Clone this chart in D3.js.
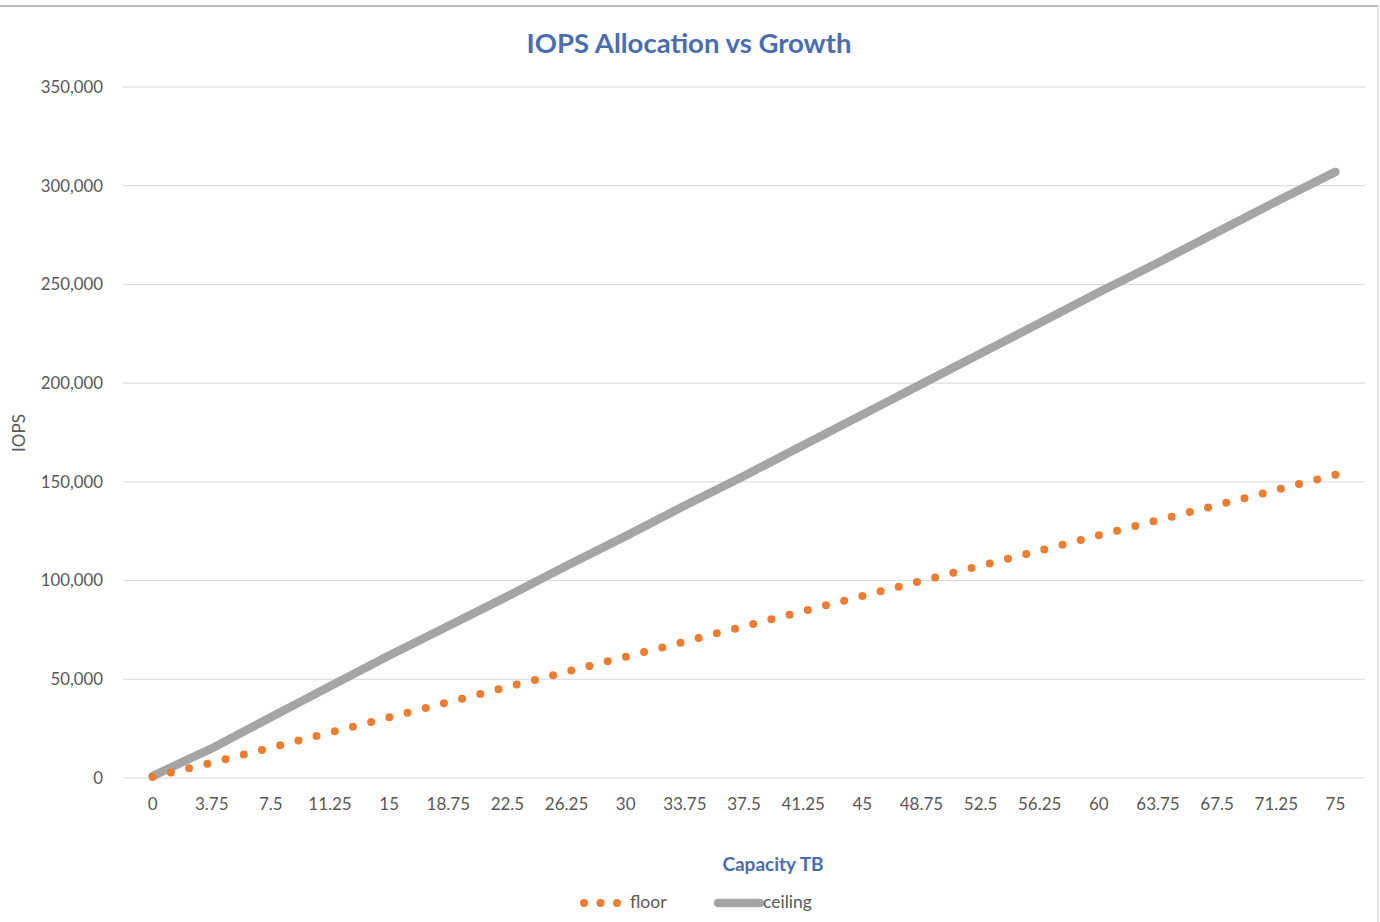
<!DOCTYPE html>
<html>
<head>
<meta charset="utf-8">
<script src="https://cdn.jsdelivr.net/npm/d3@7"></script>
<style>
  body { margin: 0; background: #fff; }
  svg { display: block; font-family: Lato, "Open Sans", sans-serif; }
</style>
</head>
<body>
<div id="grafica"></div>
<script>
// capacidad en TB (eje x de categorias)
const capacidad = ["0", "3.75", "7.5", "11.25", "15", "18.75", "22.5", "26.25", "30", "33.75", "37.5",
  "41.25", "45", "48.75", "52.5", "56.25", "60", "63.75", "67.5", "71.25", "75"];

// IOPS
const floorIops = [500, 7700, 15400, 23000, 30700, 38400, 46100, 53800, 61400, 69100, 76800,
  84500, 92200, 99800, 107500, 115200, 122900, 130600, 138200, 145900, 153600];
const ceilingIops = [1000, 15000, 30800, 46500, 62000, 77000, 92000, 107500, 122500, 138000, 153000,
  168500, 184000, 199500, 215000, 230500, 246000, 261000, 276500, 292000, 307000];

const yTicks = [0, 50000, 100000, 150000, 200000, 250000, 300000, 350000];

const W = 1380, H = 922;
const svg = d3.select("#grafica").append("svg")
  .attr("width", W).attr("height", H);

// borde del area del grafico
svg.append("line").attr("x1", 0).attr("x2", 1378).attr("y1", 6).attr("y2", 6)
  .attr("stroke", "#bdbdbd").attr("stroke-width", 2);
svg.append("line").attr("x1", 1378).attr("x2", 1378).attr("y1", 6).attr("y2", H)
  .attr("stroke", "#d9d9d9").attr("stroke-width", 1.5);

const x = d3.scaleBand().domain(capacidad).range([123, 1365]);
const cx = d => x(d) + x.bandwidth() / 2;
const y = d3.scaleLinear().domain([0, 350000]).range([778, 87]);

// lineas de cuadricula
svg.append("g").selectAll("line")
  .data(yTicks).enter().append("line")
  .attr("x1", 123).attr("x2", 1365)
  .attr("y1", d => y(d)).attr("y2", d => y(d))
  .attr("stroke", "#d9d9d9").attr("stroke-width", 1);

// eje y
const ejeY = svg.append("g")
  .attr("transform", "translate(108,0)")
  .call(d3.axisLeft(y).tickValues(yTicks).tickFormat(d3.format(",")).tickSize(0).tickPadding(5));
ejeY.select(".domain").remove();
ejeY.selectAll("text").style("fill", "#595959").style("font-size", "16.8px").style("font-family", "Lato, sans-serif");

// eje x
const ejeX = svg.append("g")
  .attr("transform", "translate(0,778)")
  .call(d3.axisBottom(x).tickSize(0).tickPadding(20));
ejeX.select(".domain").remove();
ejeX.selectAll("text").style("fill", "#595959").style("font-size", "17px").style("font-family", "Lato, sans-serif");

// series
const linea = d3.line().x((d, i) => cx(capacidad[i])).y(d => y(d));

svg.append("path")
  .attr("d", linea(ceilingIops))
  .attr("fill", "none")
  .attr("stroke", "#a5a5a5")
  .attr("stroke-width", 8.5)
  .attr("stroke-linecap", "round")
  .attr("stroke-linejoin", "round");

const trazoFloor = svg.append("path")
  .attr("d", linea(floorIops))
  .attr("fill", "none")
  .attr("stroke", "#ed7d31")
  .attr("stroke-width", 8)
  .attr("stroke-linecap", "round");
// puntos repartidos para que el ultimo caiga en el extremo
const largo = trazoFloor.node().getTotalLength();
trazoFloor.attr("stroke-dasharray", `0 ${largo / 65}`);

// titulos
svg.append("text")
  .attr("x", 689).attr("y", 53)
  .attr("text-anchor", "middle")
  .style("font-size", "27.5px").style("font-weight", "bold")
  .style("fill", "#4a6db2")
  .text("IOPS Allocation vs Growth");

svg.append("text")
  .attr("x", 773).attr("y", 871)
  .attr("text-anchor", "middle")
  .style("font-size", "19px").style("font-weight", "bold")
  .style("fill", "#4a6db2")
  .text("Capacity TB");

svg.append("text")
  .attr("transform", "translate(25,433) rotate(-90)")
  .attr("text-anchor", "middle")
  .style("font-size", "17px")
  .style("fill", "#595959")
  .text("IOPS");

// leyenda
const leyenda = svg.append("g");
leyenda.append("line")
  .attr("x1", 584).attr("x2", 618).attr("y1", 903).attr("y2", 903)
  .attr("stroke", "#ed7d31").attr("stroke-width", 8)
  .attr("stroke-linecap", "round").attr("stroke-dasharray", "0 16.5");
leyenda.append("text")
  .attr("x", 630).attr("y", 908)
  .style("font-size", "17.5px").style("fill", "#595959")
  .text("floor");
leyenda.append("line")
  .attr("x1", 718).attr("x2", 760).attr("y1", 903).attr("y2", 903)
  .attr("stroke", "#a5a5a5").attr("stroke-width", 8.5)
  .attr("stroke-linecap", "round");
leyenda.append("text")
  .attr("x", 763).attr("y", 908)
  .style("font-size", "17.5px").style("fill", "#595959")
  .text("ceiling");
</script>
</body>
</html>
